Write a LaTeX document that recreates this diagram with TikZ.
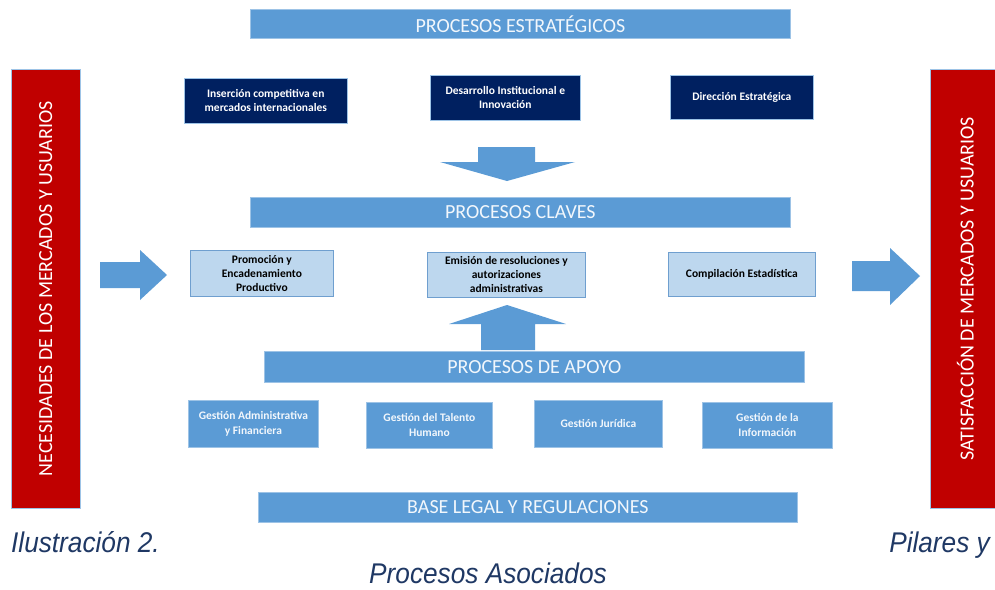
\documentclass[tikz,border=0pt]{standalone}
\usepackage{fontspec}
\setmainfont{Carlito}
\newfontfamily\capfont[FakeStretch=0.92]{Liberation Sans}
\definecolor{barblue}{HTML}{5B9BD5}
\definecolor{barline}{HTML}{9DC3E6}
\definecolor{navy}{HTML}{002060}
\definecolor{lightblue}{HTML}{BDD7EE}
\definecolor{lightline}{HTML}{6F9FCF}
\definecolor{redbar}{HTML}{C00000}
\definecolor{captxt}{HTML}{1F3864}
\begin{document}
\begin{tikzpicture}[x=1pt,y=-1pt,
  bar/.style={draw=barline,line width=0.8pt,fill=barblue,text=white!92!barblue,font=\fontsize{20}{22}\selectfont,inner sep=0pt,anchor=north west},
  stratbox/.style={draw=barline,line width=0.6pt,fill=navy,text=white,font=\bfseries\fontsize{11.5}{14}\selectfont,align=center,inner sep=0pt,anchor=north west},
  keybox/.style={draw=lightline,line width=0.8pt,fill=lightblue,text=black,font=\bfseries\fontsize{11.5}{14}\selectfont,align=center,inner sep=0pt,anchor=north west},
  supbox/.style={draw=barline,line width=0.8pt,fill=barblue,text=white!92!barblue,font=\bfseries\fontsize{11.5}{15}\selectfont,align=center,inner sep=0pt,anchor=north west},
  redside/.style={draw=barline,line width=0.6pt,fill=redbar,inner sep=0pt,anchor=north west},
  sidetext/.style={text=white,font=\fontsize{20}{22}\selectfont,rotate=90,inner sep=0pt},
  blockarrow/.style={fill=barblue,draw=none},
  caption/.style={text=captxt,font=\capfont\itshape\fontsize{28.5}{30}\selectfont,inner sep=0pt}]
\useasboundingbox (0,0) rectangle (995,589);

% strategic bar and boxes
\node[bar,minimum width=540,minimum height=29] (estr) at (250,9) {PROCESOS ESTRATÉGICOS};
\node[stratbox,minimum width=163,minimum height=45] (s1) at (184,78) {Inserción competitiva en\\mercados internacionales};
\node[stratbox,minimum width=150,minimum height=45] (s2) at (430,75) {Desarrollo Institucional e\\Innovación};
\node[stratbox,minimum width=143,minimum height=44] (s3) at (670,75) {Dirección Estratégica};

% down arrow
\fill[blockarrow] (478,147) -- (535,147) -- (535,162) -- (575,162) -- (507,181) -- (440,162) -- (478,162) -- cycle;

% key processes
\node[bar,minimum width=540,minimum height=30] (claves) at (250,197) {PROCESOS CLAVES};
\node[keybox,minimum width=143,minimum height=46] (k1) at (190,250) {Promoción y\\Encadenamiento\\Productivo};
\node[keybox,minimum width=158,minimum height=45] (k2) at (427,252) {Emisión de resoluciones y\\autorizaciones\\administrativas};
\node[keybox,minimum width=147,minimum height=44] (k3) at (668,252) {Compilación Estadística};

% side arrows
\fill[blockarrow] (100,262) -- (140,262) -- (140,250) -- (167,275) -- (140,300) -- (140,288) -- (100,288) -- cycle;
\fill[blockarrow] (852,261) -- (890,261) -- (890,248) -- (920,276) -- (890,305) -- (890,291) -- (852,291) -- cycle;

% up arrow
\fill[blockarrow] (481,350) -- (535,350) -- (535,324) -- (566,324) -- (507,305) -- (449,324) -- (481,324) -- cycle;

% support processes
\node[bar,minimum width=540,minimum height=31] (apoyo) at (264,351) {PROCESOS DE APOYO};
\node[supbox,minimum width=130,minimum height=47] (a1) at (188,400) {Gestión Administrativa\\y Financiera};
\node[supbox,minimum width=126,minimum height=46] (a2) at (366,402) {Gestión del Talento\\Humano};
\node[supbox,minimum width=128,minimum height=47] (a3) at (534,400) {Gestión Jurídica};
\node[supbox,minimum width=130,minimum height=46] (a4) at (702,402) {Gestión de la\\Información};

% base legal
\node[bar,minimum width=539,minimum height=30] (base) at (258,492) {BASE LEGAL Y REGULACIONES};

% red side bars
\node[redside,minimum width=69,minimum height=439] (left) at (11,69) {};
\node[sidetext] (lefttxt) at (left.center) {NECESIDADES DE LOS MERCADOS Y USUARIOS};
\node[redside,minimum width=70,minimum height=439] (right) at (930,69) {};
\node[sidetext] (righttxt) at (right.center) {SATISFACCIÓN DE MERCADOS Y USUARIOS};

% caption
\node[caption,anchor=base east] (cap1) at (160,552) {Ilustración 2.};
\node[caption,anchor=base east] (cap2) at (990,552) {Pilares y};
\node[caption,anchor=base] (cap3) at (488,583) {Procesos Asociados};
\end{tikzpicture}
\end{document}
